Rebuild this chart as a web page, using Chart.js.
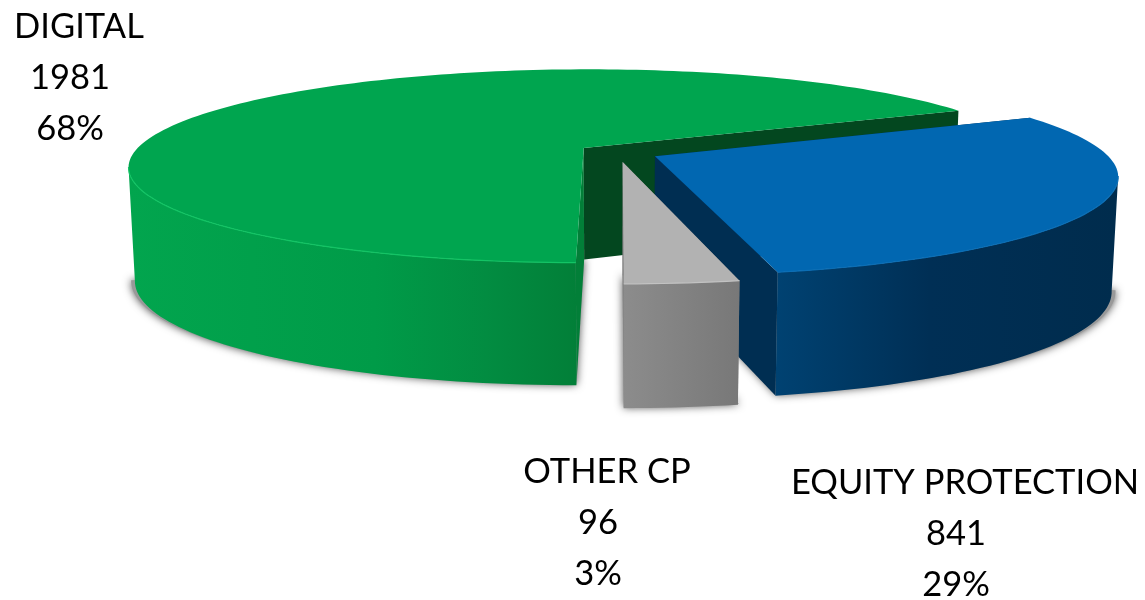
<!DOCTYPE html>
<html>
<head>
<meta charset="utf-8">
<title>3D pie</title>
<script src="https://cdn.jsdelivr.net/npm/chart.js@4"></script>
<style>
html, body { margin: 0; padding: 0; background: #fff; }
canvas { display: block; }
</style>
</head>
<body>
<canvas id="pieChart" width="1145" height="600"></canvas>
<script>
const categories = ['DIGITAL', 'EQUITY PROTECTION', 'OTHER CP'];
const values = [1981, 841, 96];
const percents = ['68%', '29%', '3%'];

const topColors = ['#00a54f', '#0167b1', '#b2b2b2'];
const faceColors = ['#03471f', '#002e52', '#7a7a7a'];
const wallStops = [
    [[0, '#02a54e'], [0.55, '#009b48'], [0.8, '#028c41'], [1, '#027f38']],
    [[0, '#004272'], [0.45, '#002f55'], [1, '#002c4d']],
    [[0, '#8c8c8c'], [1, '#787878']]
];
const rimColors = ['#13c465', '#0b6eb5', '#c2c2c2'];
const explode = [26, 26, 28];
const labelCenters = [[79, 38], [965, 494], [607, 483]];

// camera used to flatten the pie
const cam = { cx: 618, cy: 152.5, rx: 450, ky: 95, persp: 0.188, depth: 112, taper: 0.013 };

function project(u, v, z) {
    const s = 1 / (1 - cam.persp * v);
    const t = 1 - cam.taper * z;
    return {
        x: cam.cx + u * cam.rx * s * t,
        y: cam.cy + v * cam.ky * s + z * cam.depth * (1 + 0.1 * v)
    };
}

function tracePoly(ctx, pts) {
    ctx.beginPath();
    pts.forEach((p, i) => i ? ctx.lineTo(p.x, p.y) : ctx.moveTo(p.x, p.y));
    ctx.closePath();
}

const pie3d = {
    id: 'pie3d',
    // the arcs are projected below instead of being drawn flat
    beforeDatasetDraw() { return false; },
    afterDatasetsDraw(chart) {
        const ctx = chart.ctx;
        chart.getDatasetMeta(0).data.forEach((arc, i) => {
            const start = arc.startAngle, end = arc.endAngle;
            const mid = (start + end) / 2;
            const off = arc.options.offset / arc.outerRadius;
            const ox = Math.cos(mid) * off, oy = Math.sin(mid) * off;
            const steps = Math.ceil((end - start) * 40);
            const rim = [];
            for (let n = 0; n <= steps; n++) {
                const a = start + (end - start) * n / steps;
                rim.push([ox + Math.cos(a), oy + Math.sin(a)]);
            }
            // only the part of the rim in front of the silhouette gets a wall
            const front = rim.filter(p => p[1] - oy > cam.persp);
            const at = (list, z) => list.map(p => project(p[0], p[1], z));
            const tip = [ox, oy];

            // soft shadow under the slice
            ctx.save();
            ctx.shadowColor = 'rgba(0,0,0,0.7)';
            ctx.shadowBlur = 9;
            ctx.fillStyle = '#999';
            const bx = project(ox, oy, 1).x;
            const under = [tip].concat(front).map(p => project(p[0], p[1], 0.97));
            tracePoly(ctx, under.map(p => ({ x: p.x + (p.x - bx) * 0.008, y: p.y + 3 })));
            ctx.fill();
            ctx.restore();

            // cut faces
            tracePoly(ctx, [project(tip[0], tip[1], 0), project(rim[0][0], rim[0][1], 0), project(rim[0][0], rim[0][1], 1), project(tip[0], tip[1], 1)]);
            ctx.fillStyle = i === 0 ? wallStops[0][3][1] : faceColors[i];
            ctx.fill();
            const last = rim[rim.length - 1];
            tracePoly(ctx, [project(tip[0], tip[1], 0), project(last[0], last[1], 0), project(last[0], last[1], 1), project(tip[0], tip[1], 1)]);
            ctx.fillStyle = faceColors[i];
            ctx.fill();

            // outer wall
            const wallTop = at(front, 0), wallBottom = at(front, 1);
            const xs = wallTop.concat(wallBottom).map(p => p.x);
            const grad = ctx.createLinearGradient(Math.min(...xs), 0, Math.max(...xs), 0);
            wallStops[i].forEach(s => grad.addColorStop(s[0], s[1]));
            ctx.fillStyle = grad;
            tracePoly(ctx, wallTop.concat(wallBottom.slice().reverse()));
            ctx.fill();

            // top face
            ctx.fillStyle = arc.options.backgroundColor;
            tracePoly(ctx, [project(tip[0], tip[1], 0)].concat(at(rim, 0)));
            ctx.fill();

            // bright edge along the front rim
            ctx.strokeStyle = rimColors[i];
            ctx.lineWidth = 1.2;
            ctx.beginPath();
            wallTop.forEach((p, n) => n ? ctx.lineTo(p.x, p.y) : ctx.moveTo(p.x, p.y));
            ctx.stroke();
        });
    }
};

const sliceLabels = {
    id: 'sliceLabels',
    afterDraw(chart) {
        const ctx = chart.ctx;
        ctx.save();
        ctx.fillStyle = '#000';
        ctx.font = '34.5px Lato';
        ctx.textAlign = 'center';
        ctx.textBaseline = 'alphabetic';
        categories.forEach((name, i) => {
            const [x, y] = labelCenters[i];
            ctx.fillText(name, x, y);
            ctx.fillText(String(values[i]), x - 9, y + 51);
            ctx.fillText(percents[i], x - 9, y + 102);
        });
        ctx.restore();
    }
};

new Chart(document.getElementById('pieChart').getContext('2d'), {
    type: 'pie',
    data: {
        labels: categories,
        datasets: [{ data: values, backgroundColor: topColors, offset: explode, borderWidth: 0 }]
    },
    options: {
        responsive: false,
        animation: false,
        rotation: 180,
        layout: { padding: 0 },
        plugins: { legend: { display: false }, tooltip: { enabled: false } }
    },
    plugins: [pie3d, sliceLabels]
});
</script>
</body>
</html>
